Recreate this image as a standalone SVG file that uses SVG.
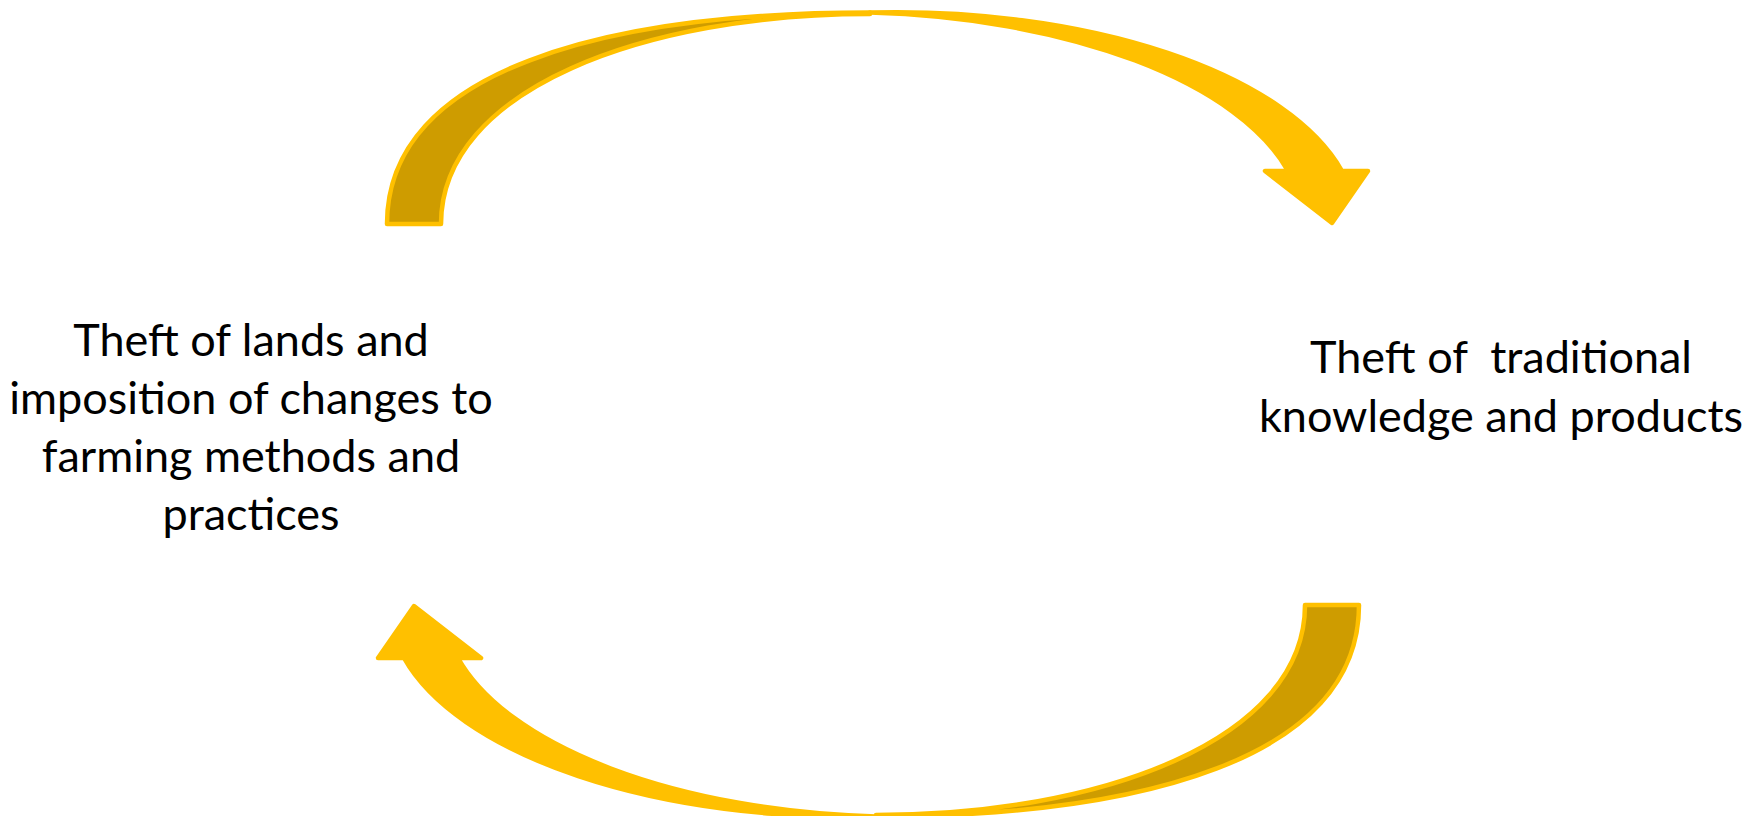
<svg xmlns="http://www.w3.org/2000/svg" xmlns:xlink="http://www.w3.org/1999/xlink" width="1761" height="816" viewBox="0 0 1761 816">
  <style>
    .back { fill: #CE9C00; stroke: #FFC000; stroke-width: 4.5; stroke-linejoin: round; }
    .front { fill: #FFC000; stroke: #FFC000; stroke-width: 4.5; stroke-linejoin: round; }
    .label { font-family: Lato, "Liberation Sans", sans-serif; font-size: 45px; fill: #000000; text-anchor: middle; }
  </style>
  <defs>
    <g id="curvedArrow">
      <path class="back" d="M 387,224 C 387,70 605,12.6 870,12.6 L 870,14 C 645,14 441,89 441,224 Z"/>
      <path class="front" d="M 870,12.6 A 460 211.5 0 0 1 1342,171 L 1368,171 L 1332,223 L 1265,171 L 1288,171 A 460 211.5 0 0 0 870,12.6 Z"/>
    </g>
  </defs>
  <rect x="0" y="0" width="1761" height="816" fill="#FFFFFF"/>
  <g id="connectors">
    <use id="arrow-top" xlink:href="#curvedArrow" href="#curvedArrow"/>
    <use id="arrow-bottom" xlink:href="#curvedArrow" href="#curvedArrow" transform="rotate(180 873 414.5)"/>
  </g>
  <g id="node-land">
    <text class="label" x="251" y="356">Theft of lands and</text>
    <text class="label" x="251" y="414">imposition of changes to</text>
    <text class="label" x="251" y="472">farming methods and</text>
    <text class="label" x="251" y="530">practices</text>
  </g>
  <g id="node-knowledge">
    <text class="label" x="1501" y="373" xml:space="preserve">Theft of  traditional</text>
    <text class="label" x="1501" y="432">knowledge and products</text>
  </g>
</svg>
